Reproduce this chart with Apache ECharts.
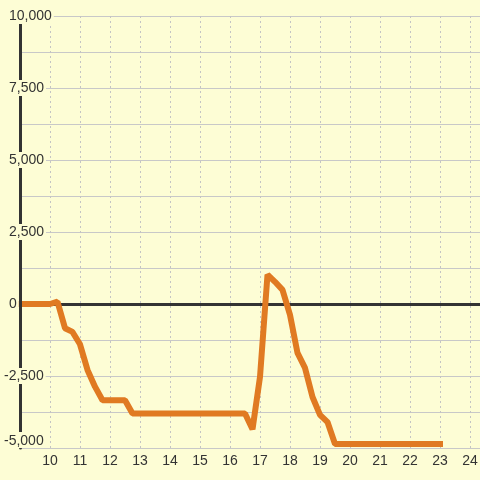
<!DOCTYPE html>
<html><head><meta charset="utf-8">
<script src="https://cdn.jsdelivr.net/npm/echarts@6/dist/echarts.min.js"></script>
<style>html,body{margin:0;padding:0;background:#fdfdd5}#c{width:480px;height:480px}</style>
</head><body><div id="c"></div>
<script>
const xValues = [9, 10, 10.25, 10.5, 10.75, 11, 11.25, 11.5, 11.75, 12.5, 12.75, 16.5, 16.75, 17, 17.25, 17.5, 17.75, 18, 18.25, 18.5, 18.75, 19, 19.25, 19.5, 23];
const yValues = [0, 0, 80, -840, -970, -1400, -2290, -2870, -3340, -3340, -3800, -3800, -4350, -2530, 1020, 770, 490, -380, -1700, -2220, -3230, -3850, -4100, -4860, -4860];
const xMin = 9, xMax = 24.3333, xStep = 1;
const yMin = -5000, yMax = 10000, yStep = 2500;

const BG = '#fdfdd5';
const TXT = '#333';
const fmt = v => v.toLocaleString('en-US');
const gridPos = { left: 20, right: 0, top: 16, bottom: 32, outerBoundsMode: 'none', containLabel: false };

const chart = echarts.init(document.getElementById('c'), null, { renderer: 'canvas' });
const labelBase = { fontSize: 14, color: TXT, fontFamily: 'Liberation Sans, Arial, sans-serif',
  backgroundColor: BG, padding: [1, 2], align: 'left' };

chart.setOption({
  backgroundColor: BG,
  animation: false,
  grid: [Object.assign({}, gridPos), Object.assign({}, gridPos), Object.assign({}, gridPos)],
  xAxis: [
    { type: 'value', gridIndex: 0, min: xMin, max: xMax, interval: xStep,
      axisLine: { show: false, onZero: false }, axisTick: { show: false },
      axisLabel: { fontSize: 14, color: TXT, fontFamily: 'Liberation Sans, Arial, sans-serif', margin: 6,
        formatter: v => (Number.isInteger(v) && v > xMin) ? String(v) : '' },
      splitLine: { show: true, lineStyle: { color: '#c4c4c4', width: 1, type: [2, 3] } } },
    { type: 'value', gridIndex: 0, min: xMin, max: xMax, position: 'top',
      axisLine: { show: true, onZero: true, onZeroAxisIndex: 0, lineStyle: { color: '#333', width: 3 } },
      axisTick: { show: false }, axisLabel: { show: false }, splitLine: { show: false } },
    { type: 'value', gridIndex: 1, min: xMin, max: xMax, show: false },
    { type: 'value', gridIndex: 2, min: xMin, max: xMax, show: false }
  ],
  yAxis: [
    { type: 'value', gridIndex: 0, min: yMin, max: yMax, interval: yStep, z: 0,
      axisLine: { show: false, onZero: false }, axisTick: { show: false }, axisLabel: { show: false },
      splitLine: { show: true, lineStyle: { color: '#c8c8c8', width: 1 } },
      minorTick: { show: false, splitNumber: 2 },
      minorSplitLine: { show: true, lineStyle: { color: '#c8c8c8', width: 1 } } },
    { type: 'value', gridIndex: 1, min: yMin, max: yMax, interval: yStep, z: 3,
      axisLine: { show: true, onZero: false, lineStyle: { color: '#333', width: 3 } },
      axisTick: { show: false }, splitLine: { show: false },
      axisLabel: Object.assign({}, labelBase, { margin: 13, formatter: v => v >= 0 ? fmt(v) : '' }) },
    { type: 'value', gridIndex: 2, min: yMin, max: yMax, interval: yStep, z: 3,
      axisLine: { show: false, onZero: false }, axisTick: { show: false }, splitLine: { show: false },
      axisLabel: Object.assign({}, labelBase, { margin: 18, padding: [2, 2, 0, 2], verticalAlignMinLabel: 'bottom',
        formatter: v => v < 0 ? fmt(v) : '' }) }
  ],
  series: [{
    type: 'line', xAxisIndex: 0, yAxisIndex: 0, z: 2,
    data: xValues.map((x, i) => [x, yValues[i]]),
    symbol: 'none', showSymbol: false,
    lineStyle: { color: '#e07a22', width: 6, join: 'bevel', cap: 'square' }
  }]
});
</script></body></html>
